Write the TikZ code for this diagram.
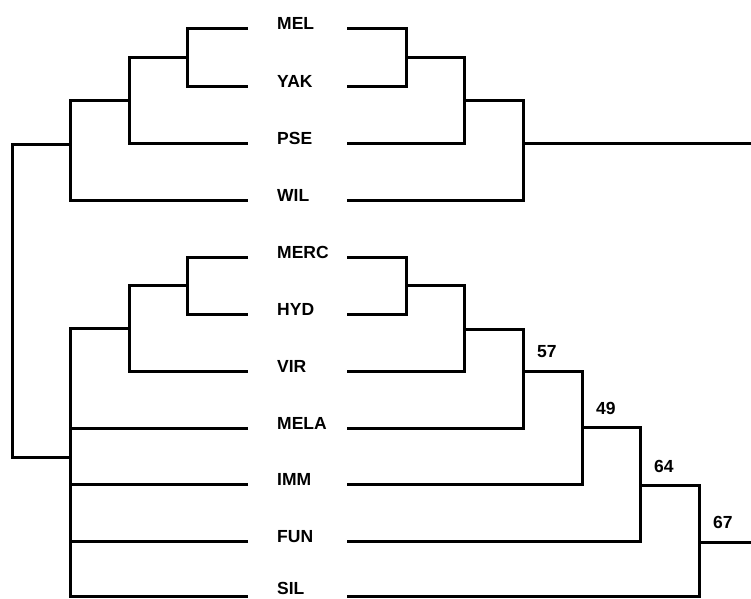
\documentclass[tikz,border=0pt]{standalone}
\usepackage{fontspec}
\setmainfont{Liberation Sans}
\begin{document}
\begin{tikzpicture}[x=1pt,y=-1pt,
  branch/.style={line width=3pt, line join=miter},
  lab/.style={anchor=base west, inner sep=0pt, font=\bfseries\fontsize{17.5}{20}\selectfont},
  num/.style={anchor=base west, inner sep=0pt, font=\bfseries\fontsize{17.5}{20}\selectfont}]
\useasboundingbox (0,0) rectangle (751,598);
\foreach \n/\t/\yy/\by in {mel/MEL/28/29, yak/YAK/86/87, pse/PSE/143/144, wil/WIL/200/201, merc/MERC/257/258, hyd/HYD/314/315, vir/VIR/371/372, mela/MELA/428/429, imm/IMM/484/485, fun/FUN/541/542, sil/SIL/596/594}{
  \node[lab] (\n) at (277,\by) {\t};
  \coordinate (\n L) at (248,\yy);
  \coordinate (\n R) at (347,\yy);
}
% left tree
\coordinate (a1) at (187,57);
\coordinate (a2) at (129,100);
\coordinate (a3) at (70,144);
\coordinate (b1) at (187,285);
\coordinate (b2) at (129,328);
\coordinate (b3) at (70,457);
\coordinate (r) at (12,300);
\draw[branch] (melL) -| (a1) |- (yakL);
\draw[branch] (a1) -| (a2) |- (pseL);
\draw[branch] (a2) -| (a3) |- (wilL);
\draw[branch] (mercL) -| (b1) |- (hydL);
\draw[branch] (b1) -| (b2) |- (virL);
\draw[branch] (b2) -| (b3) |- (silL);
\draw[branch] (melaL) -- (melaL -| b3);
\draw[branch] (immL) -- (immL -| b3);
\draw[branch] (funL) -- (funL -| b3);
\draw[branch] (a3) -| (r) |- (b3);
% right tree
\coordinate (c1) at (406,57);
\coordinate (c2) at (464,100);
\coordinate (c3) at (523,143);
\coordinate (outU) at (751,143);
\coordinate (d1) at (406,285);
\coordinate (d2) at (464,329);
\coordinate (d3) at (523,371);
\coordinate (d4) at (582,427);
\coordinate (d5) at (640,485);
\coordinate (d6) at (699,542);
\coordinate (outL) at (751,542);
\draw[branch] (melR) -| (c1) |- (yakR);
\draw[branch] (c1) -| (c2) |- (pseR);
\draw[branch] (c2) -| (c3) |- (wilR);
\draw[branch] (c3) -- (outU);
\draw[branch] (mercR) -| (d1) |- (hydR);
\draw[branch] (d1) -| (d2) |- (virR);
\draw[branch] (d2) -| (d3) |- (melaR);
\draw[branch] (d3) -| (d4) |- (immR);
\draw[branch] (d4) -| (d5) |- (funR);
\draw[branch] (d5) -| (d6) |- (silR);
\draw[branch] (d6) -- (outL);
% support values
\node[num] (n57) at (537,357) {57};
\node[num] (n49) at (596,414) {49};
\node[num] (n64) at (654,472) {64};
\node[num] (n67) at (713,528) {67};
\end{tikzpicture}
\end{document}
